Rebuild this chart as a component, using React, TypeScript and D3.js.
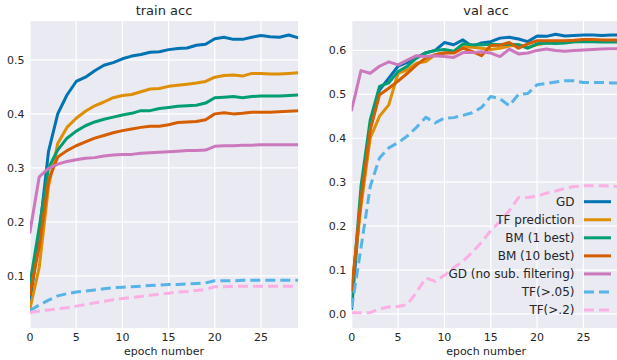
import React, { useEffect, useRef } from 'react';
import * as d3 from 'd3';

// epochs and tick labels
const epochs = [0, 1, 2, 3, 4, 5, 6, 7, 8, 9, 10, 11, 12, 13, 14, 15, 16, 17, 18, 19, 20, 21, 22, 23, 24, 25, 26, 27, 28, 29];
const xTicks = [0, 5, 10, 15, 20, 25];
const trainTicks = [0.1, 0.2, 0.3, 0.4, 0.5];
const valTicks = [0.0, 0.1, 0.2, 0.3, 0.4, 0.5, 0.6];

const seriesNames = ['GD', 'TF prediction', 'BM (1 best)', 'BM (10 best)', 'GD (no sub. filtering)', 'TF(>.05)', 'TF(>.2)'];
const seriesColors = ['#0173B2', '#DE8F05', '#029E73', '#D55E00', '#CC78BC', '#56B4E9', '#FBAFE4'];
const seriesDashed = [false, false, false, false, false, true, true];

// train accuracy
const trainGD = [0.05, 0.178, 0.33, 0.40, 0.435, 0.46, 0.468, 0.48, 0.49, 0.495, 0.502, 0.507, 0.51, 0.514, 0.515, 0.519, 0.521, 0.522, 0.527, 0.529, 0.539, 0.542, 0.538, 0.538, 0.542, 0.545, 0.543, 0.542, 0.546, 0.541];
const trainTF = [0.039, 0.116, 0.265, 0.345, 0.375, 0.392, 0.405, 0.415, 0.422, 0.43, 0.434, 0.436, 0.441, 0.446, 0.447, 0.451, 0.453, 0.455, 0.457, 0.46, 0.468, 0.471, 0.472, 0.47, 0.475, 0.475, 0.474, 0.474, 0.475, 0.476];
const trainBM1 = [0.086, 0.19, 0.30, 0.333, 0.355, 0.368, 0.378, 0.385, 0.39, 0.394, 0.398, 0.401, 0.406, 0.406, 0.41, 0.412, 0.414, 0.415, 0.416, 0.42, 0.43, 0.431, 0.432, 0.43, 0.432, 0.433, 0.433, 0.433, 0.434, 0.435];
const trainBM10 = [0.067, 0.154, 0.277, 0.32, 0.332, 0.341, 0.348, 0.355, 0.36, 0.365, 0.369, 0.372, 0.375, 0.377, 0.377, 0.38, 0.384, 0.385, 0.386, 0.389, 0.4, 0.402, 0.4, 0.401, 0.403, 0.403, 0.403, 0.404, 0.405, 0.406];
const trainGDns = [0.1815, 0.2835, 0.299, 0.307, 0.312, 0.315, 0.318, 0.319, 0.322, 0.324, 0.325, 0.325, 0.327, 0.328, 0.329, 0.33, 0.331, 0.332, 0.332, 0.333, 0.34, 0.341, 0.341, 0.342, 0.342, 0.343, 0.343, 0.343, 0.343, 0.343];
const trainTF05 = [0.036, 0.046, 0.055, 0.063, 0.067, 0.07, 0.072, 0.074, 0.076, 0.078, 0.079, 0.08, 0.081, 0.082, 0.083, 0.084, 0.084, 0.085, 0.086, 0.087, 0.091, 0.091, 0.091, 0.092, 0.092, 0.092, 0.092, 0.092, 0.092, 0.092];
const trainTF2 = [0.032, 0.035, 0.037, 0.039, 0.041, 0.044, 0.047, 0.05, 0.053, 0.056, 0.058, 0.06, 0.062, 0.064, 0.066, 0.068, 0.07, 0.071, 0.073, 0.075, 0.08, 0.08, 0.081, 0.081, 0.081, 0.081, 0.081, 0.081, 0.081, 0.081];

// val accuracy
const valGD = [0.013, 0.27, 0.427, 0.51, 0.537, 0.564, 0.573, 0.583, 0.595, 0.6, 0.618, 0.613, 0.624, 0.609, 0.617, 0.62, 0.628, 0.63, 0.626, 0.62, 0.633, 0.632, 0.637, 0.633, 0.634, 0.635, 0.635, 0.634, 0.635, 0.635];
const valTF = [0.055, 0.245, 0.401, 0.45, 0.476, 0.548, 0.556, 0.571, 0.575, 0.59, 0.594, 0.597, 0.609, 0.607, 0.605, 0.602, 0.605, 0.61, 0.613, 0.607, 0.613, 0.617, 0.618, 0.619, 0.62, 0.621, 0.621, 0.621, 0.622, 0.622];
const valBM1 = [0.03, 0.29, 0.442, 0.518, 0.526, 0.552, 0.564, 0.583, 0.594, 0.6, 0.602, 0.598, 0.615, 0.613, 0.613, 0.614, 0.613, 0.614, 0.613, 0.605, 0.615, 0.617, 0.616, 0.617, 0.62, 0.62, 0.62, 0.619, 0.619, 0.619];
const valBM10 = [0.055, 0.26, 0.419, 0.499, 0.514, 0.53, 0.548, 0.567, 0.583, 0.59, 0.594, 0.594, 0.605, 0.598, 0.588, 0.611, 0.612, 0.618, 0.605, 0.615, 0.622, 0.622, 0.622, 0.622, 0.623, 0.625, 0.625, 0.624, 0.624, 0.624];
const valGDns = [0.465, 0.554, 0.548, 0.564, 0.574, 0.567, 0.578, 0.588, 0.586, 0.588, 0.586, 0.584, 0.595, 0.595, 0.597, 0.594, 0.586, 0.603, 0.592, 0.594, 0.6, 0.603, 0.6, 0.598, 0.6, 0.601, 0.602, 0.603, 0.604, 0.604];
const valTF05 = [0.014, 0.15, 0.29, 0.355, 0.378, 0.39, 0.405, 0.425, 0.448, 0.435, 0.446, 0.447, 0.452, 0.458, 0.47, 0.495, 0.49, 0.474, 0.5, 0.502, 0.522, 0.525, 0.528, 0.531, 0.531, 0.527, 0.527, 0.527, 0.526, 0.526];
const valTF2 = [0.003, 0.003, 0.003, 0.012, 0.016, 0.017, 0.021, 0.05, 0.082, 0.074, 0.088, 0.105, 0.12, 0.14, 0.163, 0.19, 0.21, 0.235, 0.265, 0.265, 0.268, 0.275, 0.28, 0.286, 0.29, 0.292, 0.292, 0.292, 0.291, 0.29];

const trainSeries = [trainGD, trainTF, trainBM1, trainBM10, trainGDns, trainTF05, trainTF2];
const valSeries = [valGD, valTF, valBM1, valBM10, valGDns, valTF05, valTF2];

const FONT = '"DejaVu Sans", sans-serif';
const TEXT = '#262626';

function drawPanel(svg, id, title, series, yTicks, yDomain, left, right, legend) {
  const top = 21;
  const bottom = 328;

  const x = d3.scaleLinear().domain([0, 29]).range([left, right]);
  const y = d3.scaleLinear().domain(yDomain).range([bottom, top]);

  svg.append('rect')
    .attr('x', left).attr('y', top)
    .attr('width', right - left).attr('height', bottom - top)
    .attr('fill', '#EAEAF2');

  svg.append('clipPath').attr('id', id)
    .append('rect')
    .attr('x', left).attr('y', top)
    .attr('width', right - left).attr('height', bottom - top);

  // grid
  svg.append('g').selectAll('line').data(xTicks).enter().append('line')
    .attr('x1', d => x(d)).attr('x2', d => x(d))
    .attr('y1', top).attr('y2', bottom)
    .attr('stroke', 'white').attr('stroke-width', 1.2);
  svg.append('g').selectAll('line').data(yTicks).enter().append('line')
    .attr('x1', left).attr('x2', right)
    .attr('y1', d => y(d)).attr('y2', d => y(d))
    .attr('stroke', 'white').attr('stroke-width', 1.2);

  // tick labels
  svg.append('g').selectAll('text').data(xTicks).enter().append('text')
    .attr('x', d => x(d)).attr('y', bottom + 12.5)
    .attr('text-anchor', 'middle')
    .style('font-family', FONT).style('font-size', '11px').attr('fill', TEXT)
    .text(d => d);
  svg.append('g').selectAll('text').data(yTicks).enter().append('text')
    .attr('x', left - 5.5).attr('y', d => y(d) + 4)
    .attr('text-anchor', 'end')
    .style('font-family', FONT).style('font-size', '11px').attr('fill', TEXT)
    .text(d => d3.format('.1f')(d));

  svg.append('text')
    .attr('x', (left + right) / 2).attr('y', 354.5)
    .attr('text-anchor', 'middle')
    .style('font-family', FONT).style('font-size', '11px').attr('fill', TEXT)
    .text('epoch number');

  svg.append('text')
    .attr('x', (left + right) / 2).attr('y', 14.5)
    .attr('text-anchor', 'middle')
    .style('font-family', FONT).style('font-size', '13px').attr('fill', TEXT)
    .text(title);

  const line = d3.line().x((d, i) => x(epochs[i])).y(d => y(d));

  const g = svg.append('g').attr('clip-path', `url(#${id})`);
  series.forEach((s, i) => {
    g.append('path')
      .datum(s)
      .attr('d', line)
      .attr('fill', 'none')
      .attr('stroke', seriesColors[i])
      .attr('stroke-width', 3)
      .attr('stroke-linejoin', 'round')
      .attr('stroke-linecap', seriesDashed[i] ? 'butt' : 'square')
      .attr('stroke-dasharray', seriesDashed[i] ? '10,5' : null);
  });

  if (legend) {
    const lg = svg.append('g');
    seriesNames.forEach((name, i) => {
      const ly = 201.7 + i * 18.05;
      lg.append('text')
        .attr('x', 574.5).attr('y', ly + 4.3)
        .attr('text-anchor', 'end')
        .style('font-family', FONT).style('font-size', '12px').attr('fill', TEXT)
        .text(name);
      lg.append('line')
        .attr('x1', 584).attr('x2', 611)
        .attr('y1', ly).attr('y2', ly)
        .attr('stroke', seriesColors[i])
        .attr('stroke-width', 3)
        .attr('stroke-dasharray', seriesDashed[i] ? '10,5' : null);
    });
  }
}

const App = () => {
  const ref = useRef(null);

  useEffect(() => {
    const svg = d3.select(ref.current);
    svg.selectAll('*').remove();
    drawPanel(svg, 'clip-train', 'train acc', trainSeries, trainTicks, [0.0035, 0.572], 30, 298, false);
    drawPanel(svg, 'clip-val', 'val acc', valSeries, valTicks, [-0.032, 0.667], 351.7, 620.5, true);
  }, []);

  return (
    <div style={{ position: 'absolute', left: 0, top: 0 }}>
      <svg ref={ref} width={617} height={360} style={{ display: 'block', background: 'white' }}></svg>
    </div>
  );
};

export default App;
